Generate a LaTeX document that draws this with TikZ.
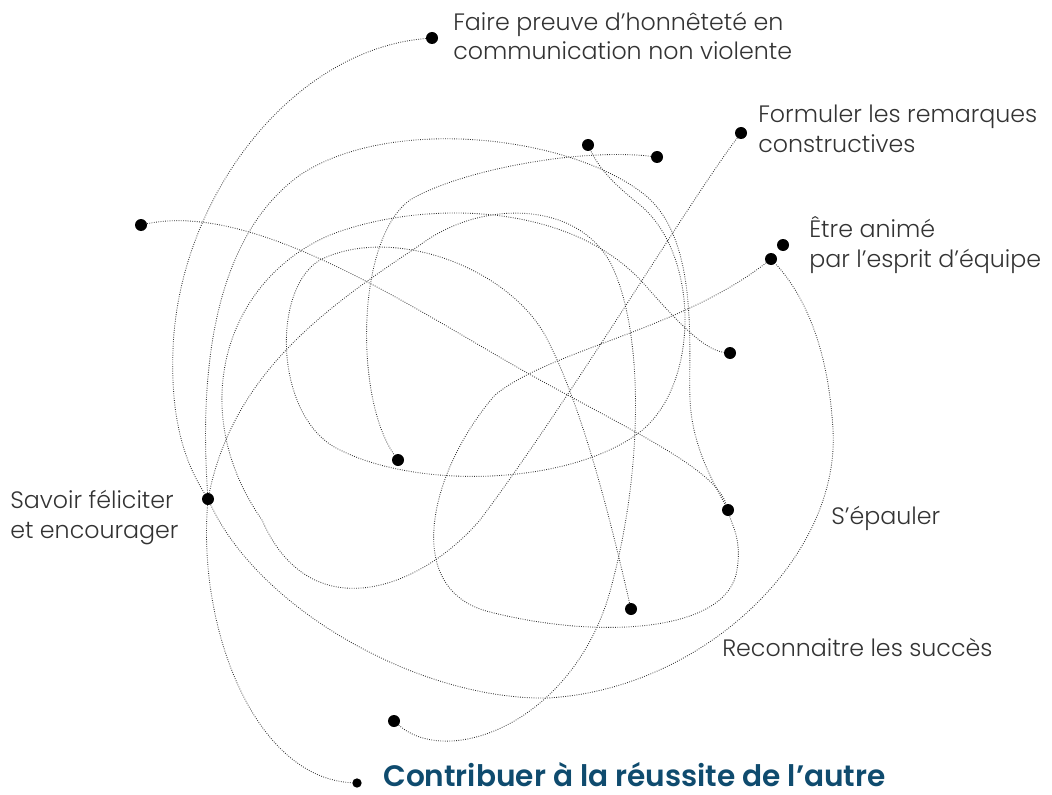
\documentclass[tikz,border=0pt]{standalone}
\usepackage{fontspec}
\setmainfont{Poppins}[UprightFont=* Light, BoldFont=* SemiBold]
\usetikzlibrary{positioning}
\definecolor{inkgray}{HTML}{333333}
\definecolor{titleblue}{HTML}{0F4B6E}

\begin{document}
\begin{tikzpicture}[x=0.75pt, y=-0.75pt,
    dot/.style={circle, fill=black, inner sep=0pt, minimum size=9pt},
    trail/.style={draw=black!80, line width=0.65pt, dash pattern=on 0.6pt off 1.1pt},
    tag/.style={anchor=base west, inner sep=0pt, align=left, text=inkgray,
                font=\fontsize{17.8}{22}\selectfont}]
    \useasboundingbox (0,0) rectangle (1052,795);

    \node[dot] (d1) at (432,38) {};
    \node[dot] (d2) at (588,145) {};
    \node[dot] (d3) at (657,157) {};
    \node[dot] (d4) at (741,133) {};
    \node[dot] (d5) at (141,225) {};
    \node[dot] (d6) at (783,245) {};
    \node[dot] (d7) at (771,259) {};
    \node[dot] (d8) at (730,353) {};
    \node[dot] (d9) at (398,460) {};
    \node[dot] (d10) at (208,499) {};
    \node[dot] (d11) at (728,510) {};
    \node[dot] (d12) at (631,609) {};
    \node[dot] (d13) at (394,721) {};
    \node[dot, minimum size=7pt] (d14) at (357,783) {};

    \draw[trail] (d1) .. controls (290,50) and (178,200) .. (173,350) .. controls (170,430) and (190,470) .. (d10);
    \draw[trail] (d10) .. controls (198,630) and (255,778) .. (d14);
    \draw[trail] (d10) .. controls (200,380) and (210,240) .. (300,175) .. controls (390,115) and (570,135) .. (645,195)
        .. controls (700,240) and (688,350) .. (690,400) .. controls (692,445) and (712,480) .. (d11);
    \draw[trail] (d10) .. controls (260,610) and (420,700) .. (547,698) .. controls (700,690) and (840,560) .. (833,430)
        .. controls (828,340) and (800,290) .. (d7);
    \draw[trail] (d5) .. controls (260,200) and (430,320) .. (540,380) .. controls (640,435) and (715,470) .. (d11);
    \draw[trail] (d4) .. controls (690,200) and (570,400) .. (480,520) .. controls (420,590) and (310,630) .. (262,520)
        .. controls (185,410) and (225,280) .. (330,235) .. controls (420,200) and (570,200) .. (645,285)
        .. controls (680,325) and (705,350) .. (d8);
    \draw[trail] (d3) .. controls (580,148) and (460,170) .. (410,200) .. controls (355,240) and (355,400) .. (d9);
    \draw[trail] (d7) .. controls (680,330) and (550,350) .. (495,395) .. controls (430,470) and (400,590) .. (490,612)
        .. controls (600,640) and (728,632) .. (737,570) .. controls (742,540) and (732,525) .. (d11);
    \draw[trail] (d13) .. controls (450,770) and (580,720) .. (613,580) .. controls (642,470) and (645,330) .. (610,262)
        .. controls (575,200) and (480,200) .. (420,245) .. controls (330,305) and (235,370) .. (d10);
    \draw[trail] (d12) .. controls (615,540) and (585,410) .. (545,335) .. controls (505,265) and (390,225) .. (320,260)
        .. controls (270,290) and (275,420) .. (340,450) .. controls (420,490) and (570,485) .. (640,432)
        .. controls (700,385) and (700,255) .. (640,205) .. controls (615,185) and (600,170) .. (d2);

    \node[tag] (honnete) at (453,60) {Faire preuve d’honnêteté en\\communication non violente};
    \node[tag] (remarques) at (758,152) {Formuler les remarques\\constructives};
    \node[tag] (equipe) at (809,267) {Être animé\\par l’esprit d’équipe};
    \node[tag] (feliciter) at (10,538) {Savoir féliciter\\et encourager};
    \node[tag] (epauler) at (831,524) {S’épauler};
    \node[tag] (succes) at (722,656) {Reconnaitre les succès};
    \node[anchor=base west, inner sep=0pt, text=titleblue, font=\fontsize{22.2}{26}\selectfont\bfseries]
        (titre) at (383,786) {Contribuer à la réussite de l’autre};
\end{tikzpicture}
\end{document}
